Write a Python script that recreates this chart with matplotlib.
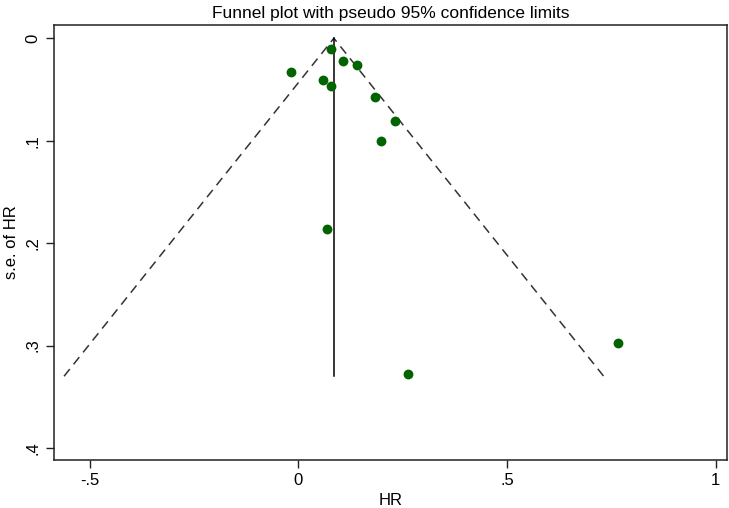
import matplotlib
matplotlib.use("Agg")
import matplotlib.pyplot as plt
import numpy as np

plt.rcParams["font.family"] = ["Liberation Sans", "DejaVu Sans"]

# study estimates (HR) and their standard errors
hr = [0.077, 0.108, 0.141, -0.017, 0.060, 0.077, 0.184, 0.232, 0.199, 0.069, 0.766, 0.263]
se = [0.011, 0.022, 0.026, 0.033, 0.041, 0.047, 0.057, 0.081, 0.100, 0.186, 0.298, 0.328]
pooled = 0.085
se_max = 0.33

x_ticks = [-0.5, 0, 0.5, 1]
x_labels = ["-.5", "0", ".5", "1"]
y_ticks = [0, 0.1, 0.2, 0.3, 0.4]
y_labels = ["0", ".1", ".2", ".3", ".4"]

fig = plt.figure(figsize=(7.29, 5.08), dpi=100)
ax = fig.add_axes([0.074, 0.094, 0.923, 0.857])

# pseudo 95% limits
ax.plot([pooled - 1.96 * se_max, pooled, pooled + 1.96 * se_max], [se_max, 0, se_max],
        color="#333333", lw=1.1, linestyle=(0, (6, 4)))
ax.plot([pooled, pooled], [0, se_max], color="black", lw=1.1)
ax.scatter(hr, se, s=50, color="#006400", zorder=3, linewidths=0)

ax.set_xlim(-0.586, 1.027)
ax.set_ylim(0.412, -0.013)
ax.set_xticks(x_ticks)
ax.set_xticklabels(x_labels)
ax.set_yticks(y_ticks)
ax.set_yticklabels(y_labels, rotation=90, va="center")
ax.tick_params(labelsize=12, length=6, width=1, color="#222222")
for s in ax.spines.values():
    s.set_linewidth(1.1)
    s.set_color("#222222")

ax.set_xlabel("HR", fontsize=12, labelpad=3)
ax.set_ylabel("s.e. of HR", fontsize=12, labelpad=5)
ax.set_title("Funnel plot with pseudo 95% confidence limits", fontsize=12.5, pad=5)

fig.savefig("out.png", dpi=100)
